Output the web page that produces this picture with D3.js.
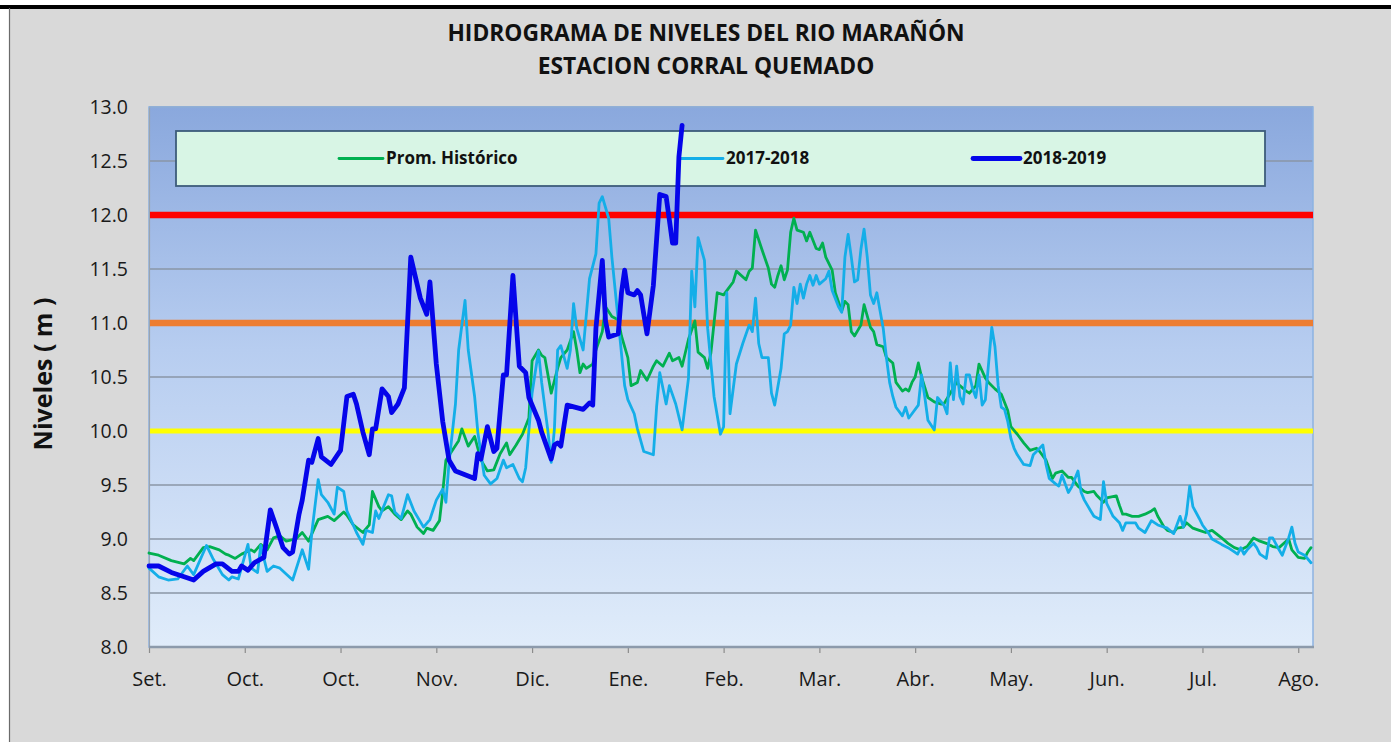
<!DOCTYPE html>
<html>
<head>
<meta charset="utf-8">
<script src="https://cdn.jsdelivr.net/npm/d3@7"></script>
<style>
  html, body { margin: 0; padding: 0; background: #ffffff; }
  svg { display: block; }
  text { font-family: "Open Sans", "Noto Sans", sans-serif; }
</style>
</head>
<body>
<svg id="chart" width="1391" height="742"></svg>
<script>
// ---------------- DATA ----------------
const titleLines = ["HIDROGRAMA DE NIVELES DEL RIO MARAÑÓN", "ESTACION CORRAL QUEMADO"];
const yTitle = "Niveles ( m )";

// x-axis: day offset from 1 Sep, major unit 30 days
const tickDays = [0, 30, 60, 90, 120, 150, 180, 210, 240, 270, 300, 330, 360];
const tickLabels = ["Set.", "Oct.", "Oct.", "Nov.", "Dic.", "Ene.", "Feb.", "Mar.", "Abr.", "May.", "Jun.", "Jul.", "Ago."];
const yTicks = [8.0, 8.5, 9.0, 9.5, 10.0, 10.5, 11.0, 11.5, 12.0, 12.5, 13.0];

// alert levels
const alertLevels = [12.0, 11.0, 10.0];
const alertColors = ["#ff0000", "#ed7d31", "#ffff00"];

const seriesNames = ["Prom. Histórico", "2017-2018", "2018-2019"];

// Prom. Histórico
const histDays = [0,3,7,11,13,14,17,19,22,24,25,27,29,32,33,35,37,39,41,43,46,48,50,53,56,58,61,62,64,67,69,70,72,73,75,77,79,81,82,84,86,87,89,91,92,93,95,97,98,100,102,104,106,108,110,112,113,115,117,119,120,122,123,124,126,128,129,131,133,134,135,136,137,139,140,142,143,145,147,148,150,151,153,154,156,158,159,161,163,164,166,167,169,171,172,174,175,176,178,180,181,183,184,187,188,189,190,192,194,195,196,197,198,199,200,201,202,203,205,206,207,209,210,211,212,213,214,215,217,218,219,220,221,223,224,226,227,228,230,231,233,234,236,237,238,239,240,241,242,244,246,248,249,251,253,254,256,257,259,260,262,263,265,267,269,270,272,274,276,278,279,281,283,284,286,288,289,291,293,294,296,297,299,300,303,304,305,306,308,310,312,314,315,316,318,319,321,322,324,325,327,329,331,333,336,338,340,342,344,346,348,350,352,354,357,358,360,362,363,364];
const histVals = [8.87,8.85,8.80,8.77,8.82,8.80,8.92,8.93,8.90,8.86,8.85,8.82,8.86,8.90,8.88,8.95,8.90,9.01,9.03,8.98,9.00,9.06,8.98,9.18,9.21,9.17,9.25,9.22,9.13,9.06,9.13,9.44,9.30,9.26,9.30,9.23,9.18,9.26,9.23,9.11,9.05,9.10,9.08,9.17,9.43,9.73,9.82,9.91,10.02,9.86,9.95,9.73,9.63,9.64,9.79,9.89,9.78,9.87,9.97,10.12,10.65,10.75,10.70,10.68,10.35,10.58,10.68,10.75,10.92,10.75,10.54,10.62,10.58,10.62,10.75,10.92,11.15,11.06,11.03,10.88,10.68,10.42,10.45,10.56,10.47,10.60,10.65,10.60,10.72,10.65,10.68,10.60,10.85,11.02,10.73,10.68,10.58,10.72,11.28,11.26,11.30,11.38,11.48,11.40,11.48,11.51,11.86,11.68,11.51,11.36,11.33,11.44,11.53,11.40,11.49,11.84,11.97,11.86,11.84,11.76,11.84,11.69,11.68,11.74,11.61,11.55,11.49,11.28,11.11,11.20,11.17,10.92,10.88,10.98,11.17,10.96,10.92,10.80,10.78,10.68,10.63,10.45,10.37,10.39,10.37,10.45,10.50,10.63,10.50,10.31,10.27,10.25,10.25,10.35,10.45,10.42,10.37,10.35,10.42,10.62,10.49,10.45,10.39,10.34,10.19,10.04,9.97,9.89,9.82,9.84,9.81,9.73,9.56,9.61,9.63,9.57,9.57,9.49,9.44,9.43,9.44,9.40,9.34,9.38,9.40,9.31,9.23,9.23,9.21,9.21,9.23,9.26,9.28,9.21,9.11,9.08,9.06,9.10,9.11,9.15,9.10,9.08,9.06,9.08,9.01,8.96,8.92,8.90,8.93,9.01,8.98,8.96,8.93,8.92,9.00,8.90,8.83,8.82,8.88,8.92];

// 2017-2018
const y1718Days = [0,3,6,9,12,14,18,20,23,25,26,28,31,32,34,35,37,39,41,45,48,50,51,53,54,56,58,59,61,62,65,67,68,70,71,72,75,76,77,79,81,83,86,88,90,92,93,94,96,97,99,100,102,103,105,107,109,111,112,114,116,117,118,120,122,123,125,126,127,128,129,131,132,133,134,136,138,140,141,142,144,145,147,149,150,152,153,155,158,159,160,162,163,165,167,169,170,171,172,174,175,177,179,180,181,182,184,186,188,189,190,191,192,194,195,196,198,199,200,201,202,203,204,205,206,207,208,209,210,212,213,214,216,217,218,219,220,221,222,223,224,225,226,227,228,230,231,232,233,234,236,237,238,239,241,242,243,244,246,247,249,250,251,252,253,254,255,256,257,258,259,260,261,262,264,265,266,267,268,269,270,271,272,274,276,277,278,280,281,282,284,285,286,288,289,291,292,293,295,296,298,299,300,302,304,305,306,309,310,312,314,316,318,319,321,323,324,325,326,327,329,330,332,333,336,338,340,341,342,343,344,346,347,348,350,351,352,354,355,357,358,359,360,362,364];
const y1718Vals = [8.73,8.65,8.62,8.63,8.75,8.67,8.94,8.82,8.67,8.62,8.65,8.63,8.95,8.73,8.69,8.94,8.70,8.75,8.73,8.62,8.90,8.72,9.06,9.55,9.41,9.34,9.23,9.48,9.44,9.26,9.06,8.95,9.08,9.06,9.26,9.19,9.41,9.40,9.25,9.19,9.41,9.26,9.11,9.18,9.36,9.46,9.34,9.71,10.25,10.75,11.21,10.75,10.32,9.99,9.59,9.51,9.56,9.73,9.66,9.69,9.56,9.53,9.66,10.35,10.74,10.45,9.99,9.71,10.02,10.75,10.79,10.58,10.75,11.18,10.95,10.75,11.41,11.64,12.11,12.17,11.97,11.61,11.02,10.42,10.29,10.16,10.02,9.81,9.78,10.22,10.54,10.25,10.42,10.25,10.01,10.49,11.48,11.15,11.79,11.58,10.95,10.32,9.97,10.04,11.28,10.16,10.62,10.81,10.98,10.92,11.23,10.81,10.68,10.68,10.35,10.24,10.58,10.90,10.92,10.98,11.33,11.18,11.36,11.23,11.36,11.44,11.35,11.44,11.36,11.41,11.48,11.30,11.15,11.10,11.61,11.82,11.61,11.38,11.40,11.68,11.87,11.61,11.26,11.18,11.28,10.95,10.68,10.45,10.32,10.22,10.14,10.22,10.12,10.16,10.24,10.52,10.32,10.10,10.01,10.31,10.24,10.16,10.63,10.29,10.60,10.32,10.25,10.52,10.52,10.39,10.31,10.52,10.24,10.29,10.96,10.78,10.42,10.22,10.20,10.09,9.93,9.84,9.78,9.69,9.68,9.78,9.81,9.87,9.69,9.56,9.51,9.49,9.59,9.43,9.48,9.63,9.43,9.36,9.26,9.21,9.18,9.53,9.33,9.21,9.15,9.08,9.15,9.15,9.10,9.06,9.17,9.13,9.11,9.10,9.05,9.21,9.11,9.23,9.49,9.30,9.19,9.13,9.05,9.00,8.95,8.92,8.88,8.86,8.92,8.86,8.90,8.96,8.92,8.86,8.82,9.01,9.01,8.90,8.85,9.01,9.11,8.96,8.88,8.85,8.78];

// 2018-2019
const y1819Days = [0,3,7,11,14,17,21,23,26,28,29,31,33,36,38,40,42,44,45,47,48,50,51,53,54,57,60,62,64,65,67,69,70,71,73,75,76,78,80,82,85,87,88,90,92,94,96,102,103,104,106,108,109,111,112,114,116,118,119,122,123,126,127,128,129,131,136,138,139,140,142,143,144,147,148,149,150,152,153,154,156,158,160,162,164,165,166,167];
const y1819Vals = [8.75,8.75,8.69,8.65,8.62,8.70,8.77,8.77,8.70,8.70,8.75,8.71,8.78,8.83,9.27,9.10,8.92,8.86,8.88,9.23,9.36,9.73,9.71,9.93,9.76,9.69,9.82,10.32,10.34,10.25,9.99,9.78,10.02,10.02,10.39,10.32,10.17,10.25,10.40,11.61,11.23,11.08,11.38,10.62,10.09,9.73,9.63,9.56,9.79,9.74,10.04,9.81,9.84,10.52,10.52,11.44,10.60,10.54,10.31,10.10,9.99,9.74,9.87,9.89,9.86,10.24,10.20,10.26,10.24,10.95,11.58,11.02,10.87,10.90,11.28,11.49,11.28,11.26,11.30,11.26,10.90,11.35,12.19,12.17,11.74,11.74,12.54,12.83];

const seriesColors = ["#00b050", "#14aee8", "#0505ea"];
const seriesWidths = [2.8, 2.8, 4.8];

// ---------------- LAYOUT ----------------
const W = 1391, H = 742;
const plot = { left: 149, right: 1313, top: 107, bottom: 647 };

const svg = d3.select("#chart");

// page background
svg.append("rect").attr("x", 0).attr("y", 0).attr("width", W).attr("height", H).attr("fill", "#ffffff");
svg.append("rect").attr("x", 9).attr("y", 8).attr("width", W - 9).attr("height", H - 8).attr("fill", "#d9d9d9");
svg.append("rect").attr("x", 0).attr("y", 5).attr("width", W).attr("height", 4).attr("fill", "#000000");
svg.append("line").attr("x1", 9.5).attr("x2", 9.5).attr("y1", 8).attr("y2", H).attr("stroke", "#6b6b6b").attr("stroke-width", 1.2);

// scales
const x = d3.scaleLinear().domain([0, 364]).range([plot.left, 1311]);
const y = d3.scaleLinear().domain([8, 13]).range([plot.bottom, plot.top]);

// gradient
const defs = svg.append("defs");
const grad = defs.append("linearGradient").attr("id", "bg").attr("x1", 0).attr("y1", 0).attr("x2", 0).attr("y2", 1);
grad.append("stop").attr("offset", "0%").attr("stop-color", "#8aa8dd");
grad.append("stop").attr("offset", "45%").attr("stop-color", "#b7cdf0");
grad.append("stop").attr("offset", "100%").attr("stop-color", "#e0ecfa");

svg.append("rect")
  .attr("x", plot.left).attr("y", plot.top)
  .attr("width", plot.right - plot.left).attr("height", plot.bottom - plot.top)
  .attr("fill", "url(#bg)");

// gridlines
svg.append("g").selectAll("line").data(yTicks.filter(v => v > 8)).join("line")
  .attr("x1", plot.left).attr("x2", plot.right)
  .attr("y1", d => y(d)).attr("y2", d => y(d))
  .attr("stroke", "#8a96a6").attr("stroke-width", 1.3);

// plot border
svg.append("rect")
  .attr("x", plot.left).attr("y", plot.top)
  .attr("width", plot.right - plot.left).attr("height", plot.bottom - plot.top)
  .attr("fill", "none").attr("stroke", "#8db3e2").attr("stroke-width", 1.5);

// y axis
const yAxis = d3.axisLeft(y).tickValues(yTicks).tickFormat(d3.format(".1f")).tickSize(0).tickPadding(21);
const gy = svg.append("g").attr("transform", `translate(${plot.left},0)`).call(yAxis);
gy.select(".domain").attr("stroke", "#9aa4b0").attr("stroke-width", 1.2);
gy.selectAll("text").attr("font-size", "19.5px").attr("fill", "#1a1a1a")
  .style("font-family", '"Open Sans", sans-serif');

// x axis
const xAxis = d3.axisBottom(x).tickValues(tickDays).tickFormat((d, i) => tickLabels[i]).tickSize(6).tickPadding(19).tickSizeOuter(0);
const gx = svg.append("g").attr("transform", `translate(0,${plot.bottom})`).call(xAxis);
gx.select(".domain").remove();
gx.selectAll(".tick line").attr("stroke", "#8c8c8c").attr("stroke-width", 1.2);
gx.selectAll("text").attr("font-size", "20px").attr("fill", "#1a1a1a")
  .style("font-family", '"Open Sans", sans-serif');
svg.append("line").attr("x1", plot.left).attr("x2", plot.right + 1)
  .attr("y1", plot.bottom).attr("y2", plot.bottom)
  .attr("stroke", "#8c9aab").attr("stroke-width", 2.5);

// alert lines
svg.append("g").selectAll("line").data(alertLevels).join("line")
  .attr("x1", plot.left + 1).attr("x2", plot.right)
  .attr("y1", d => y(d)).attr("y2", d => y(d))
  .attr("stroke", (d, i) => alertColors[i]).attr("stroke-width", (d, i) => i === 2 ? 5 : 6.5);

// legend box
const lg = { x: 176, y: 131, w: 1089, h: 55 };
svg.append("rect").attr("x", lg.x).attr("y", lg.y).attr("width", lg.w).attr("height", lg.h)
  .attr("fill", "#d8f5e5").attr("stroke", "#3d5c7a").attr("stroke-width", 1.8);
const legendX = [339, 681, 973];
const legendLen = [44, 42, 47];
seriesNames.forEach((name, i) => {
  const cy = lg.y + lg.h / 2;
  svg.append("line").attr("x1", legendX[i]).attr("x2", legendX[i] + legendLen[i])
    .attr("y1", cy).attr("y2", cy)
    .attr("stroke", seriesColors[i]).attr("stroke-width", seriesWidths[i]).attr("stroke-linecap", "round");
  svg.append("text").attr("x", legendX[i] + legendLen[i] + 3).attr("y", cy)
    .attr("dy", "0.35em").attr("font-size", "17px").attr("font-weight", "bold").attr("fill", "#111")
    .text(name);
});

// series lines
const line = d3.line().x(d => x(d[0])).y(d => y(d[1])).curve(d3.curveLinear);
const seriesData = [
  d3.zip(histDays, histVals),
  d3.zip(y1718Days, y1718Vals),
  d3.zip(y1819Days, y1819Vals)
];
seriesData.forEach((data, i) => {
  svg.append("path").datum(data)
    .attr("d", line)
    .attr("fill", "none")
    .attr("stroke", seriesColors[i])
    .attr("stroke-width", seriesWidths[i])
    .attr("stroke-linejoin", "round")
    .attr("stroke-linecap", "round");
});

// titles
svg.append("text").attr("x", 706).attr("y", 41).attr("text-anchor", "middle")
  .attr("font-size", "22.8px").attr("font-weight", "bold").attr("fill", "#111").text(titleLines[0]);
svg.append("text").attr("x", 706).attr("y", 74).attr("text-anchor", "middle")
  .attr("font-size", "22.8px").attr("font-weight", "bold").attr("fill", "#111").text(titleLines[1]);

// y title
svg.append("text")
  .attr("transform", `translate(52,${374}) rotate(-90)`)
  .attr("text-anchor", "middle")
  .attr("font-size", "25px").attr("font-weight", "bold").attr("fill", "#111")
  .text(yTitle);
</script>
</body>
</html>
